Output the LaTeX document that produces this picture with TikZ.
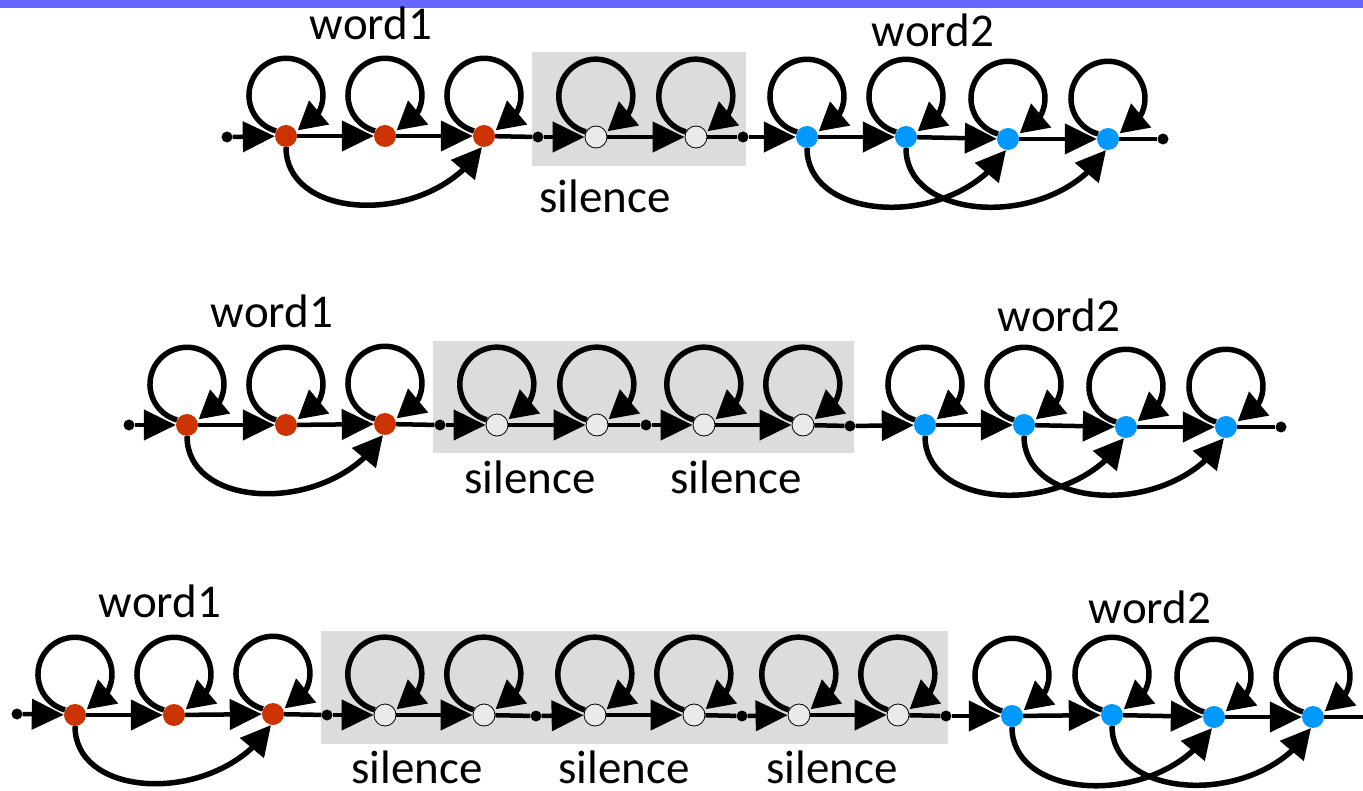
\documentclass[tikz,border=0pt]{standalone}
\usepackage{fontspec}
\setmainfont{Carlito}
\usetikzlibrary{arrows.meta,bending}
\definecolor{redc}{RGB}{204,51,0}
\definecolor{bluec}{RGB}{0,153,255}
\definecolor{boxc}{RGB}{220,220,220}
\definecolor{silc}{RGB}{234,234,234}
\definecolor{barc}{RGB}{102,102,255}
\tikzset{
  st/.style={circle, minimum size=22pt, inner sep=0pt},
  wa/.style={st, fill=redc},
  wb/.style={st, fill=bluec},
  ss/.style={st, fill=silc, draw=black, line width=0.8pt},
  junc/.style={circle, fill=black, minimum size=11pt, inner sep=0pt},
  tr/.style={line width=4.5pt, -{Triangle[length=32pt,width=30pt]}},
  plainline/.style={line width=4.5pt},
  selfl/.style={line width=5.5pt, -{Triangle[length=28pt,width=30pt,flex]}},
  skiparc/.style={line width=5.5pt, -{Triangle[length=30pt,width=30pt]}},
  lab/.style={font=\fontsize{47}{54}\selectfont, anchor=base, inner sep=0pt},
  graybox/.style={fill=boxc, draw=none}
}
\newcommand\myloop[1]{\draw[selfl] (#1.153) arc[start angle=105.6, end angle=431.6, radius=37];}
\newcommand\myskip[2]{\draw[skiparc] (#1.south) .. controls +(0,75) and +(-50,80) .. (#2.-100);}
\begin{document}
\begin{tikzpicture}[x=1pt,y=-1pt]
\useasboundingbox (0,0) rectangle (1363,791);
\fill[barc] (0,0) rectangle (1363,8);
% ---------------- row 1 ----------------
\fill[graybox] (532,52) rectangle (746,166);
\node[junc] (a0) at (227,137) {};
\node[wa] (a1) at (286,136) {};
\node[wa] (a2) at (385,136) {};
\node[wa] (a3) at (484,136) {};
\node[junc] (aj1) at (538,137) {};
\node[ss] (as1) at (596,137) {};
\node[ss] (as2) at (696,137) {};
\node[junc] (aj2) at (743,137) {};
\node[wb] (ab1) at (807,137) {};
\node[wb] (ab2) at (906,137) {};
\node[wb] (ab3) at (1008,139) {};
\node[wb] (ab4) at (1108,139) {};
\node[junc] (ae) at (1163,139) {};
\draw[tr] (a0) -- (a1);
\draw[tr] (a1) -- (a2);
\draw[tr] (a2) -- (a3);
\draw[plainline] (a3) -- (aj1);
\draw[tr] (aj1) -- (as1);
\draw[tr] (as1) -- (as2);
\draw[plainline] (as2) -- (aj2);
\draw[tr] (aj2) -- (ab1);
\draw[tr] (ab1) -- (ab2);
\draw[tr] (ab2) -- (ab3);
\draw[tr] (ab3) -- (ab4);
\draw[plainline] (ab4) -- (ae);
\myloop{a1}\myloop{a2}\myloop{a3}
\myloop{as1}\myloop{as2}
\myloop{ab1}\myloop{ab2}\myloop{ab3}\myloop{ab4}
\myskip{a1}{a3}
\myskip{ab1}{ab3}
\myskip{ab2}{ab4}
\node[lab] (aw1) at (371,40) {word1};
\node[lab] (aw2) at (933,47) {word2};
\node[lab] (asl) at (605,213) {silence};
% ---------------- row 2 ----------------
\fill[graybox] (433,341) rectangle (854,453);
\node[junc] (b0) at (129,425) {};
\node[wa] (b1) at (187,425) {};
\node[wa] (b2) at (286,425) {};
\node[wa] (b3) at (385,424) {};
\node[junc] (bj1) at (440,425) {};
\node[ss] (bs1) at (497,425) {};
\node[ss] (bs2) at (597,425) {};
\node[junc] (bj2) at (646,425) {};
\node[ss] (bs3) at (704,425) {};
\node[ss] (bs4) at (803,425) {};
\node[junc] (bj3) at (850,426) {};
\node[wb] (bb1) at (925,425) {};
\node[wb] (bb2) at (1024,425) {};
\node[wb] (bb3) at (1126,427) {};
\node[wb] (bb4) at (1226,427) {};
\node[junc] (be) at (1281,427) {};
\draw[tr] (b0) -- (b1);
\draw[tr] (b1) -- (b2);
\draw[tr] (b2) -- (b3);
\draw[plainline] (b3) -- (bj1);
\draw[tr] (bj1) -- (bs1);
\draw[tr] (bs1) -- (bs2);
\draw[plainline] (bs2) -- (bj2);
\draw[tr] (bj2) -- (bs3);
\draw[tr] (bs3) -- (bs4);
\draw[plainline] (bs4) -- (bj3);
\draw[tr] (bj3) -- (bb1);
\draw[tr] (bb1) -- (bb2);
\draw[tr] (bb2) -- (bb3);
\draw[tr] (bb3) -- (bb4);
\draw[plainline] (bb4) -- (be);
\myloop{b1}\myloop{b2}\myloop{b3}
\myloop{bs1}\myloop{bs2}\myloop{bs3}\myloop{bs4}
\myloop{bb1}\myloop{bb2}\myloop{bb3}\myloop{bb4}
\myskip{b1}{b3}
\myskip{bb1}{bb3}
\myskip{bb2}{bb4}
\node[lab] (bw1) at (272,328) {word1};
\node[lab] (bw2) at (1059,332) {word2};
\node[lab] (bsl1) at (530,493) {silence};
\node[lab] (bsl2) at (736,493) {silence};
% ---------------- row 3 ----------------
\fill[graybox] (321,631) rectangle (948,744);
\node[junc] (c0) at (17,714) {};
\node[wa] (c1) at (75,715) {};
\node[wa] (c2) at (174,715) {};
\node[wa] (c3) at (273,714) {};
\node[junc] (cj1) at (327,715) {};
\node[ss] (cs1) at (385,715) {};
\node[ss] (cs2) at (484,715) {};
\node[junc] (cj2) at (536,716) {};
\node[ss] (cs3) at (595,715) {};
\node[ss] (cs4) at (694,715) {};
\node[junc] (cj3) at (742,716) {};
\node[ss] (cs5) at (799,715) {};
\node[ss] (cs6) at (898,715) {};
\node[junc] (cj4) at (946,716) {};
\node[wb] (cb1) at (1012,716) {};
\node[wb] (cb2) at (1112,715) {};
\node[wb] (cb3) at (1214,717) {};
\node[wb] (cb4) at (1313,717) {};
\coordinate (ce) at (1363,717);
\draw[tr] (c0) -- (c1);
\draw[tr] (c1) -- (c2);
\draw[tr] (c2) -- (c3);
\draw[plainline] (c3) -- (cj1);
\draw[tr] (cj1) -- (cs1);
\draw[tr] (cs1) -- (cs2);
\draw[plainline] (cs2) -- (cj2);
\draw[tr] (cj2) -- (cs3);
\draw[tr] (cs3) -- (cs4);
\draw[plainline] (cs4) -- (cj3);
\draw[tr] (cj3) -- (cs5);
\draw[tr] (cs5) -- (cs6);
\draw[plainline] (cs6) -- (cj4);
\draw[tr] (cj4) -- (cb1);
\draw[tr] (cb1) -- (cb2);
\draw[tr] (cb2) -- (cb3);
\draw[tr] (cb3) -- (cb4);
\draw[plainline] (cb4) -- (ce);
\myloop{c1}\myloop{c2}\myloop{c3}
\myloop{cs1}\myloop{cs2}\myloop{cs3}\myloop{cs4}\myloop{cs5}\myloop{cs6}
\myloop{cb1}\myloop{cb2}\myloop{cb3}\myloop{cb4}
\myskip{c1}{c3}
\myskip{cb1}{cb3}
\myskip{cb2}{cb4}
\node[lab] (cw1) at (160,617) {word1};
\node[lab] (cw2) at (1150,623) {word2};
\node[lab] (csl1) at (417,783) {silence};
\node[lab] (csl2) at (624,783) {silence};
\node[lab] (csl3) at (832,783) {silence};
\end{tikzpicture}
\end{document}
